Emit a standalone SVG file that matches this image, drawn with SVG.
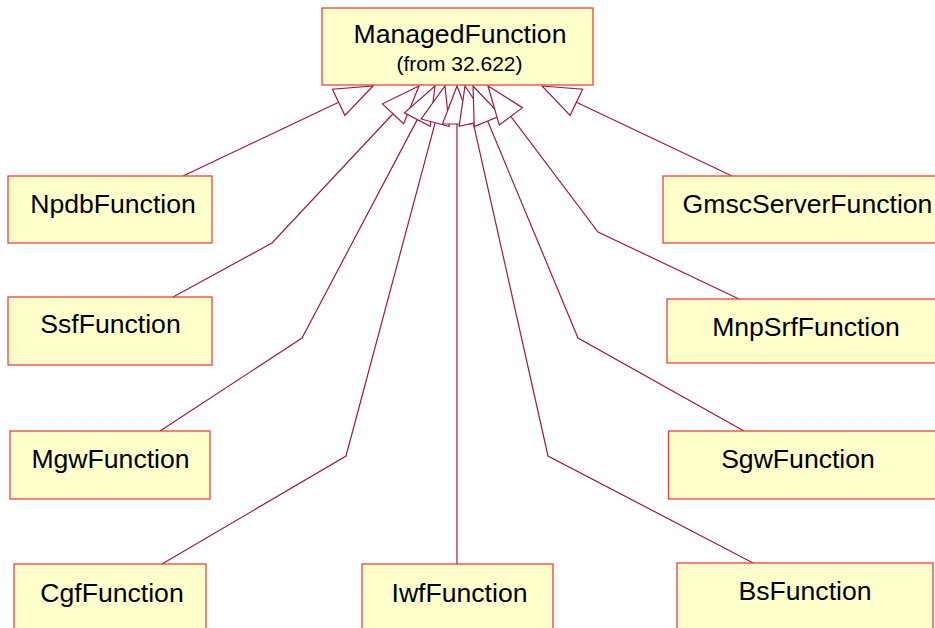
<svg xmlns="http://www.w3.org/2000/svg" width="935" height="628" viewBox="0 0 935 628">
<style>
.box{fill:#ffffcc;stroke:#f03030;stroke-width:1.2}
.t{font-family:"Liberation Sans",Arial,sans-serif;font-size:26.6px;fill:#000;text-anchor:middle}
.s{font-family:"Liberation Sans",Arial,sans-serif;font-size:21px;fill:#000;text-anchor:middle}
.ln{fill:none;stroke:#a01848;stroke-width:1.2}
.ah{fill:#fff;stroke:#a01848;stroke-width:1.2}
</style>
<rect width="935" height="628" fill="#fff"/>
<g id="connectors">
<polyline class="ln" points="183,176 338.65,102.27"/>
<polyline class="ln" points="173,297 272,243 393.03,113.74"/>
<polyline class="ln" points="160,431 302,338 417.26,119.61"/>
<polyline class="ln" points="162,564 346,456 435.18,122.71"/>
<polyline class="ln" points="457,564 457,124"/>
<polyline class="ln" points="755,564 548,456 473.32,123.08"/>
<polyline class="ln" points="744,431 578,338 487.62,121.08"/>
<polyline class="ln" points="739,299 598,232 510.87,116.35"/>
<polyline class="ln" points="732,176 576.35,102.27"/>
<polygon class="ah" points="373,86 344.86,115.38 332.44,89.16"/>
<polygon class="ah" points="419,86 403.61,123.65 382.45,103.83"/>
<polygon class="ah" points="435,86 430.09,126.38 404.43,112.84"/>
<polygon class="ah" points="445,86 449.19,126.46 421.17,118.96"/>
<polygon class="ah" points="457,86 471.5,124 442.5,124"/>
<polygon class="ah" points="465,86 487.47,119.91 459.17,126.25"/>
<polygon class="ah" points="473,86 501.0,115.5 474.24,126.66"/>
<polygon class="ah" points="488,86 522.45,107.63 499.29,125.07"/>
<polygon class="ah" points="542,86 582.56,89.16 570.14,115.38"/>
</g>
<g id="ManagedFunction">
<rect class="box" x="322" y="8" width="271" height="77"/>
<text class="t" x="460" y="43">ManagedFunction</text>
<text class="s" x="459.5" y="71">(from 32.622)</text>
</g>
<g id="NpdbFunction">
<rect class="box" x="8" y="176" width="204" height="67"/>
<text class="t" x="113" y="213">NpdbFunction</text>
</g>
<g id="SsfFunction">
<rect class="box" x="8" y="297" width="204" height="68"/>
<text class="t" x="110.5" y="333">SsfFunction</text>
</g>
<g id="MgwFunction">
<rect class="box" x="10" y="431" width="200" height="68"/>
<text class="t" x="110.5" y="467.5">MgwFunction</text>
</g>
<g id="CgfFunction">
<rect class="box" x="14" y="564" width="192" height="70"/>
<text class="t" x="112" y="601.5">CgfFunction</text>
</g>
<g id="IwfFunction">
<rect class="box" x="362" y="564" width="191" height="70"/>
<text class="t" x="459.5" y="601.5">IwfFunction</text>
</g>
<g id="BsFunction">
<rect class="box" x="677" y="563" width="256" height="70"/>
<text class="t" x="805" y="600">BsFunction</text>
</g>
<g id="SgwFunction">
<rect class="box" x="668.5" y="431" width="275" height="68"/>
<text class="t" x="798" y="467.5">SgwFunction</text>
</g>
<g id="MnpSrfFunction">
<rect class="box" x="667" y="299" width="280" height="64"/>
<text class="t" x="806" y="335.5">MnpSrfFunction</text>
</g>
<g id="GmscServerFunction">
<rect class="box" x="663" y="176" width="280" height="67"/>
<text class="t" x="807.5" y="213">GmscServerFunction</text>
</g>
</svg>
